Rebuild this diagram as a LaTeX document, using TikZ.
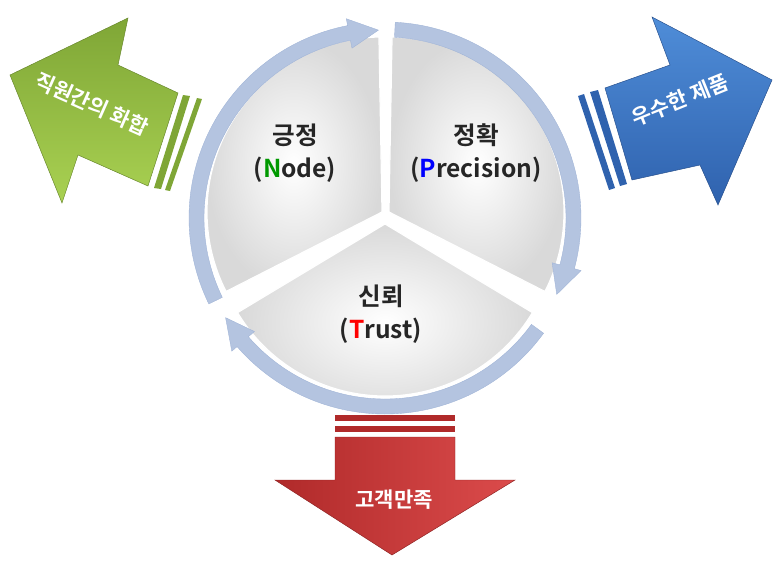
\documentclass[tikz,border=0pt]{standalone}
\usepackage{fontspec}
\usetikzlibrary{calc}
\newfontfamily\kr{Noto Sans CJK KR Bold}
\definecolor{ringc}{HTML}{B4C4E0}
\definecolor{ringd}{HTML}{9FB3D6}
\definecolor{gdark}{HTML}{7FA636}
\definecolor{glight}{HTML}{A9D152}
\definecolor{bdark}{HTML}{2F62AE}
\definecolor{blight}{HTML}{4F8DD8}
\definecolor{rdark}{HTML}{B02A2A}
\definecolor{rlight}{HTML}{DB4B4B}
\begin{document}
\begin{tikzpicture}[x=0.03cm,y=-0.03cm,
  lbl/.style={font=\kr\fontsize{21}{24}\selectfont,text=black!85,align=center},
  wlbl/.style={font=\kr\fontsize{18}{20}\selectfont,text=white},
  ring/.style={fill=ringc,draw=ringd,line width=0.3pt},
  sector/.style={inner color=white,outer color=gray!30,draw=white,line width=1pt}]
\useasboundingbox (0,0) rectangle (778,561);
\coordinate (c) at (385,218);
% sectors
\path[sector] (382,212) -- +(-91:175) arc[start angle=-91,end angle=-207,radius=175] -- cycle;
\path[sector] (389,212) -- +(-89:175) arc[start angle=-89,end angle=27,radius=175] -- cycle;
\path[sector] (385,224) -- +(-211:172) arc[start angle=-211,end angle=-329,radius=172] -- cycle;
% ring arrows
\foreach \s/\e/\n in {-206/-92/ra,-87/24/rb,36/148/rc}{
  \pgfmathsetmacro\b{\e-9}
  \path[ring] ($(c)+(\s:196)$) arc[start angle=\s,end angle=\b,radius=196]
     -- ($(c)+(\b:203)$) -- ($(c)+(\e:188)$) -- ($(c)+(\b:173)$) -- ($(c)+(\b:181)$)
     arc[start angle=\b,end angle=\s,radius=181] -- cycle;
}
\node[lbl] (n1) at (295,153) {긍정\\[4pt](\textcolor{green!60!black}{N}ode)};
\node[lbl] (n2) at (476,153) {정확\\[4pt](\textcolor{blue}{P}recision)};
\node[lbl] (n3) at (381,314) {신뢰\\[4pt](\textcolor{red}{T}rust)};
% green arrow
\path[top color=gdark, bottom color=glight,draw=gdark!80!black,line width=0.4pt]
  (128,18) -- (118,65) -- (178,93) -- (148,186) -- (78,155) -- (62,203) -- (10,75) -- cycle;
\path[fill=gdark] (183,95) -- (190,96) -- (161,189) -- (154,188) -- cycle;
\path[fill=gdark] (197,98) -- (202,99) -- (170,191) -- (165,190) -- cycle;
\node[wlbl,rotate=-24] (g) at (92,104) {직원간의 화합};
% blue arrow
\path[top color=blight, bottom color=bdark,draw=bdark!80!black,line width=0.4pt]
  (652,17) -- (772,80) -- (718,205) -- (700,165) -- (632,180) -- (605,88) -- (670,65) -- cycle;
\path[fill=bdark] (578,96) -- (584,94) -- (615,188) -- (609,190) -- cycle;
\path[fill=bdark] (590,92) -- (598,90) -- (627,184) -- (620,186) -- cycle;
\node[wlbl,rotate=22] (b) at (680,100) {우수한 제품};
% red arrow
\path[left color=rdark, right color=rlight,draw=rdark!80!black,line width=0.4pt]
  (335,437) -- (455,437) -- (455,480) -- (515,480) -- (392,555) -- (275,480) -- (335,480) -- cycle;
\path[fill=rdark] (335,415) rectangle (455,421);
\path[fill=rdark] (335,426) rectangle (455,432);
\node[wlbl] (r) at (394,500) {고객만족};
\end{tikzpicture}
\end{document}
